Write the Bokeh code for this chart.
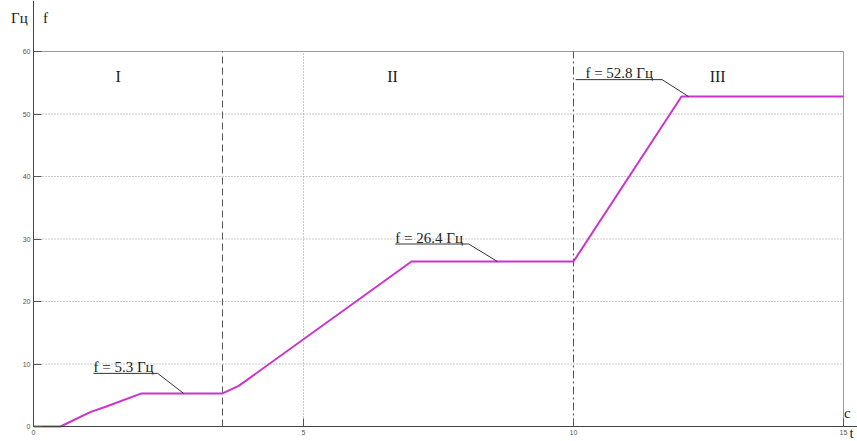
from bokeh.plotting import figure
from bokeh.models import Range1d, FixedTicker, Label, LinearAxis
from bokeh.core.properties import value
from bokeh.embed import file_html
from bokeh.resources import INLINE

# ---- data ----
t_vals = [0.0, 0.5, 1.05, 1.35, 2.0, 3.5, 3.8, 7.0, 10.0, 12.0, 15.0]
f_vals = [0.0, 0.0, 2.3, 3.2, 5.3, 5.3, 6.5, 26.4, 26.4, 52.8, 52.8]
x_ticks = [0, 5, 10, 15]
y_ticks = [0, 10, 20, 30, 40, 50, 60]
stage_names = ["I", "II", "III"]
stage_bounds = [3.5, 10.0]
levels = [5.3, 26.4, 52.8]
level_texts = ["f = 5.3 Гц", "f = 26.4 Гц", "f = 52.8 Гц"]

# ---- layout (positions only) ----
X_MAX, Y_MAX = 15, 60
X_LO, X_HI = -0.611, 15.259
Y_LO, Y_HI = -2.4, 68.16
stage_label_x = [1.57, 6.65, 12.67]
stage_label_y = 56
ann_text_x = [1.11, 6.70, 10.22]
ann_line_x0 = [1.11, 6.70, 10.04]
ann_line_x1 = [2.30, 8.06, 11.64]
ann_line_y = [8.5, 29.2, 55.5]
ann_point_x = [2.78, 8.59, 12.13]
ann_text_y = [y - 0.25 for y in ann_line_y]

p = figure(width=857, height=441, output_backend="svg", toolbar_location=None,
           x_range=Range1d(X_LO, X_HI), y_range=Range1d(Y_LO, Y_HI),
           x_axis_location=None, y_axis_location=None,
           min_border_left=0, min_border_right=0, min_border_top=0,
           min_border_bottom=0)
p.outline_line_color = None
p.background_fill_color = "white"
p.border_fill_color = "white"
p.xgrid.visible = False
p.ygrid.visible = False

xaxis = LinearAxis(fixed_location=0, bounds=(0, X_HI))
yaxis = LinearAxis(fixed_location=0, bounds=(0, Y_HI))
for ax, ticks in ((xaxis, x_ticks), (yaxis, y_ticks)):
    ax.ticker = FixedTicker(ticks=ticks)
    ax.major_tick_in = 8
    ax.major_tick_out = 0
    ax.minor_tick_in = 0
    ax.minor_tick_out = 0
    ax.axis_line_color = "#444444"
    ax.major_tick_line_color = "#555555"
    ax.major_label_text_font_size = "7px"
    ax.major_label_text_color = "#555555"
    ax.major_label_text_font = "Liberation Sans"
    ax.major_label_standoff = 3
p.add_layout(xaxis, "below")
p.add_layout(yaxis, "left")

# dotted grid
grid_y = [v for v in y_ticks if 0 < v < Y_MAX]
p.segment(x0=[0] * len(grid_y), x1=[X_MAX] * len(grid_y), y0=grid_y, y1=grid_y,
          line_color="#999999", line_dash="1 2", line_width=1)
grid_x = [v for v in x_ticks if 0 < v < X_MAX and v not in stage_bounds]
p.segment(x0=grid_x, x1=grid_x, y0=[0] * len(grid_x), y1=[Y_MAX] * len(grid_x),
          line_color="#999999", line_dash="1 2", line_width=1)

# box top and right
p.segment(x0=[0, X_MAX], x1=[X_MAX, X_MAX], y0=[Y_MAX, 0], y1=[Y_MAX, Y_MAX],
          line_color="#999999", line_width=1)

# stage boundaries
p.segment(x0=[stage_bounds[0]], x1=[stage_bounds[0]], y0=[0], y1=[Y_MAX],
          line_color="#555555", line_dash="7 4", line_width=1)
p.segment(x0=[stage_bounds[1]], x1=[stage_bounds[1]], y0=[0], y1=[Y_MAX],
          line_color="#555555", line_dash="8 3 2 3", line_width=1)

# curve
p.line(t_vals, f_vals, line_color="#cc33cc", line_width=2)

# annotation leaders
xs = [[a, b, c] for a, b, c in zip(ann_line_x0, ann_line_x1, ann_point_x)]
ys = [[y, y, lv] for y, lv in zip(ann_line_y, levels)]
p.multi_line(xs=xs, ys=ys, line_color="#333333", line_width=1)

p.text(x=ann_text_x, y=ann_text_y, text=level_texts, text_font=value("Liberation Serif"),
       text_font_size="15px", text_color="#222222", text_baseline="bottom",
       text_align="left")

p.text(x=stage_label_x, y=[stage_label_y] * 3, text=stage_names,
       text_font=value("Liberation Serif"), text_font_size="16px",
       text_color="#222222", text_baseline="middle", text_align="center")

# axis name labels
for txt, x, y in (("Гц", -0.26, 65.4), ("f", 0.22, 65.4), ("c", 15.07, 2.1), ("t", 15.15, -1.05)):
    p.add_layout(Label(x=x, y=y, text=txt, text_font="Liberation Serif",
                       text_font_size="15px", text_color="#222222",
                       text_align="center", text_baseline="middle"))

open("out.html", "w").write(file_html(p, INLINE))
